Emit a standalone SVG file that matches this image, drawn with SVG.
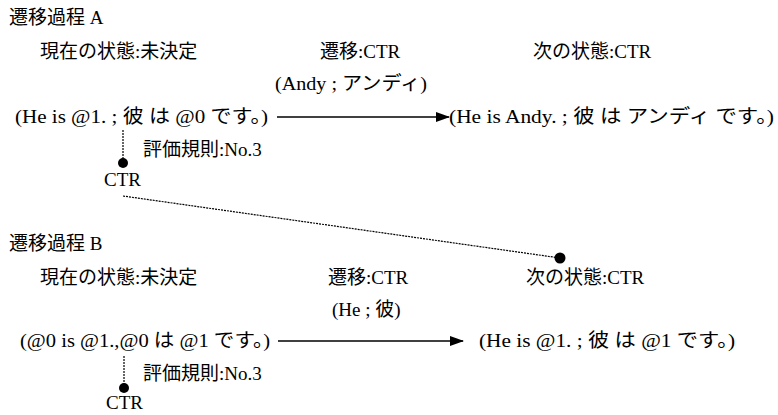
<svg xmlns="http://www.w3.org/2000/svg" width="778" height="415" viewBox="0 0 778 415">
<style>
.t{font-size:19px;fill:#000}
.ln{stroke:#000;stroke-width:1.3;fill:none}
.dt{stroke:#000;stroke-width:1.2;stroke-dasharray:2 1;fill:none}
.dot{fill:#000}
</style>
<defs>
<marker id="ah" markerWidth="14" markerHeight="10" refX="13" refY="5" orient="auto" markerUnits="userSpaceOnUse">
<path d="M0,0 L14,5 L0,10 Z" fill="#000"/>
</marker>
</defs>
<rect width="778" height="415" fill="#fff"/>
<g font-family="Liberation Serif, Times New Roman, DejaVu Serif, Noto Sans CJK JP, serif" class="t">
<g id="processA">
<text x="9" y="24">遷移過程 A</text>
<text x="40" y="58">現在の状態:未決定</text>
<text x="320" y="58">遷移:CTR</text>
<text x="533" y="58">次の状態:CTR</text>
<text x="275" y="90" textLength="152" lengthAdjust="spacingAndGlyphs">(Andy ; アンディ)</text>
</g>
<g id="nodeA1"><text x="15" y="123" textLength="253" lengthAdjust="spacingAndGlyphs">(He is @1. ; 彼  は  @0  です。)</text></g>
<g id="nodeA2"><text x="449" y="123" textLength="325" lengthAdjust="spacingAndGlyphs">(He is Andy. ; 彼  は  アンディ  です。)</text></g>
<g id="ruleA"><text x="143" y="156">評価規則:No.3</text></g>
<g id="ctrA"><text x="104" y="186">CTR</text></g>
<g id="processB">
<text x="9" y="250">遷移過程 B</text>
<text x="40" y="284">現在の状態:未決定</text>
<text x="328" y="284">遷移:CTR</text>
<text x="526" y="284">次の状態:CTR</text>
<text x="332" y="316">(He ; 彼)</text>
</g>
<g id="nodeB1"><text x="20" y="347" textLength="250" lengthAdjust="spacingAndGlyphs">(@0 is @1.,@0  は  @1  です。)</text></g>
<g id="nodeB2"><text x="479" y="347" textLength="256" lengthAdjust="spacingAndGlyphs">(He is @1. ; 彼  は  @1  です。)</text></g>
<g id="ruleB"><text x="143" y="380">評価規則:No.3</text></g>
<g id="ctrB"><text x="106" y="409">CTR</text></g>
</g>
<g id="connectors">
<line class="ln" x1="277" y1="117" x2="449" y2="117" marker-end="url(#ah)"/>
<line class="dt" x1="123" y1="130" x2="123" y2="160"/>
<circle class="dot" cx="123" cy="163" r="5"/>
<line class="dt" x1="123" y1="196" x2="560" y2="258"/>
<circle class="dot" cx="560" cy="258" r="5.5"/>
<line class="ln" x1="278" y1="341" x2="463" y2="341" marker-end="url(#ah)"/>
<line class="dt" x1="124" y1="356" x2="124" y2="385"/>
<circle class="dot" cx="124" cy="388" r="5"/>
</g>
</svg>
